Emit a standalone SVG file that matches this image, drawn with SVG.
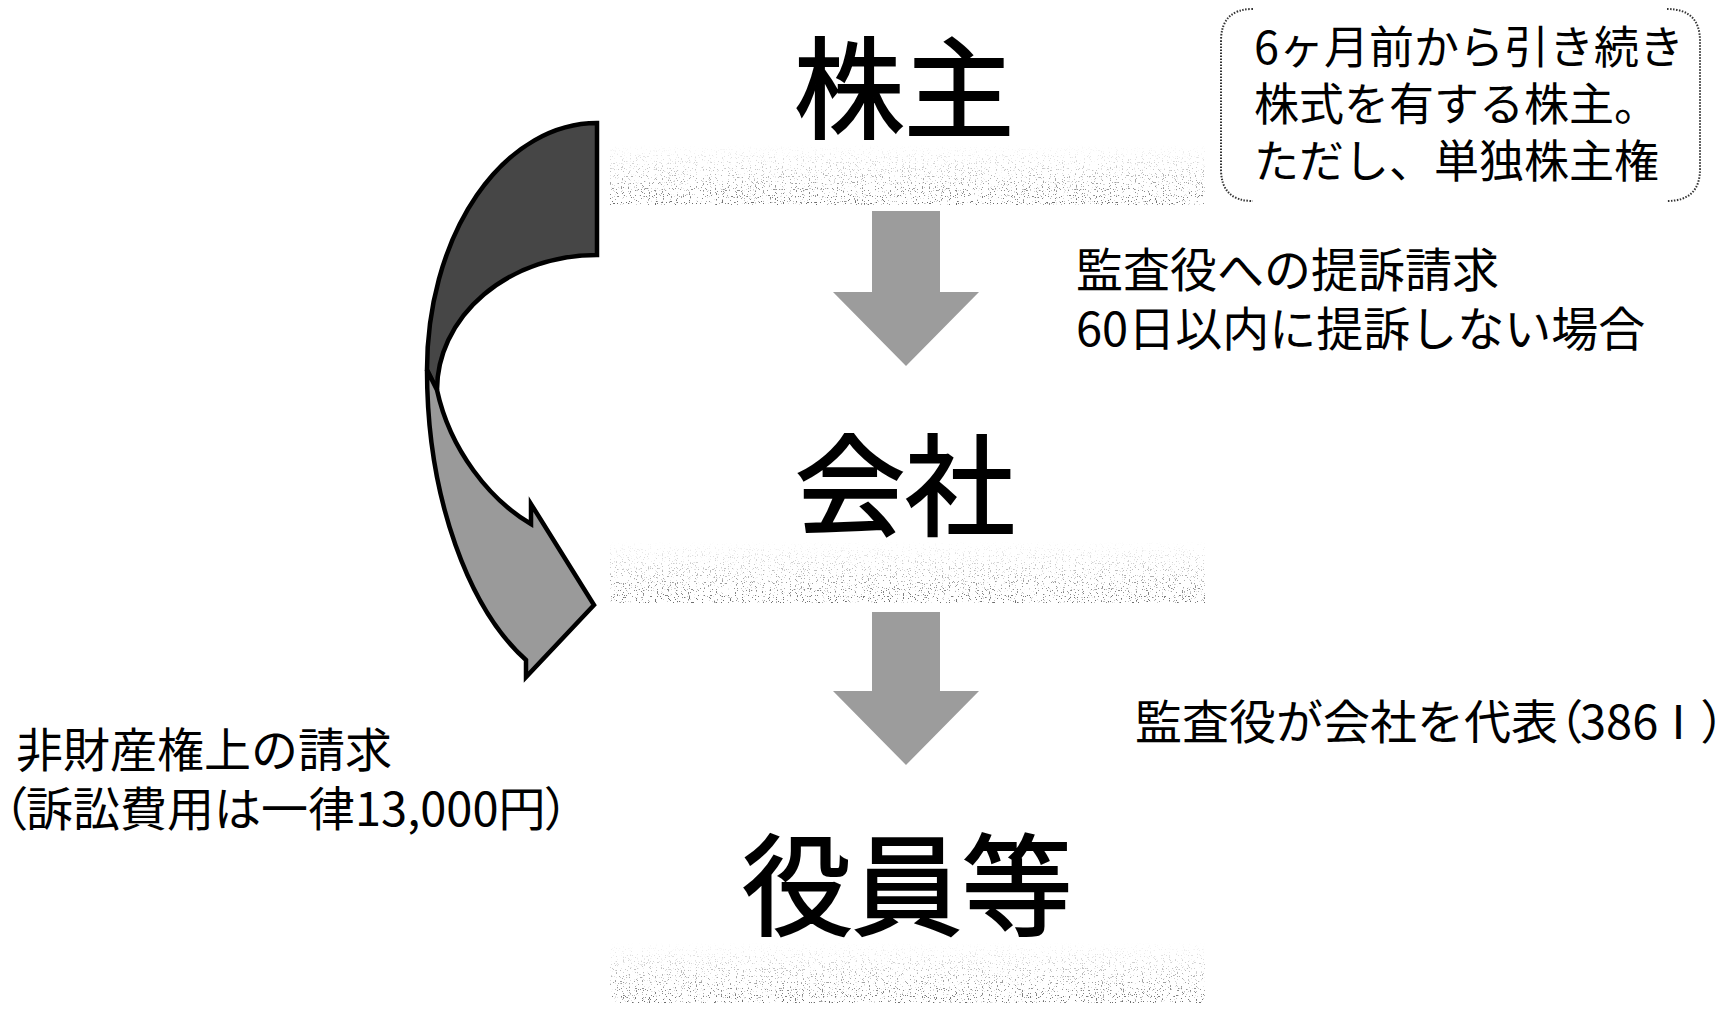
<svg xmlns="http://www.w3.org/2000/svg" width="1725" height="1009" viewBox="0 0 1725 1009">
<style>
.big{font-family:"Noto Sans CJK JP","Noto Sans CJK SC",sans-serif;font-size:110px;fill:#000;stroke:#000;stroke-width:2;text-anchor:middle}
.lbl{font-family:"Noto Sans CJK JP","Noto Sans CJK SC",sans-serif;font-size:47px;fill:#000}
.note{font-size:45px}
.p{font-feature-settings:"palt"}
.band{fill:url(#bandg);filter:url(#spk)}
.down{fill:#9c9c9c}
.bracket{fill:none;stroke:#333;stroke-width:2;stroke-dasharray:1.5 1.5}
</style>
<defs>
<linearGradient id="bandg" x1="0" y1="0" x2="0" y2="1">
<stop offset="0" stop-color="#444" stop-opacity="0"/>
<stop offset="0.4" stop-color="#444" stop-opacity="0.3"/>
<stop offset="1" stop-color="#444" stop-opacity="0.8"/>
</linearGradient>
<filter id="spk" x="0" y="0" width="1" height="1">
<feTurbulence type="fractalNoise" baseFrequency="0.85" numOctaves="1" seed="4" result="n"/>
<feColorMatrix in="n" type="matrix" values="0 0 0 0 0  0 0 0 0 0  0 0 0 0 0  14 0 0 0 -8.6" result="m"/>
<feComposite in="SourceGraphic" in2="m" operator="in"/>
</filter>
</defs>
<rect width="1725" height="1009" fill="#fff"/>

<g id="node-kabunushi">
<rect class="band" x="610" y="145" width="595" height="60"/>
<text class="big" x="904" y="130">株主</text>
</g>

<g id="node-kaisha">
<rect class="band" x="610" y="542" width="595" height="61"/>
<text class="big" x="905" y="527">会社</text>
</g>

<g id="node-yakuin">
<rect class="band" x="610" y="943" width="595" height="60"/>
<text class="big" x="907" y="927">役員等</text>
</g>

<g id="node-note">
<path class="bracket" d="M1253,9 Q1221,9 1221,41 L1221,169 Q1221,201 1253,201"/>
<path class="bracket" d="M1667,9 Q1700,9 1700,41 L1700,169 Q1700,201 1667,201"/>
<text class="lbl note" x="1254" y="64">6ヶ月前から引き続き</text>
<text class="lbl note" x="1254" y="121">株式を有する株主。</text>
<text class="lbl note" x="1254" y="178">ただし、単独株主権</text>
</g>

<g id="connectors">
<path id="arrow-1" class="down" d="M872,211 L940,211 L940,292 L979,292 L906,366 L833,292 L872,292 Z"/>
<path id="arrow-2" class="down" d="M872,612 L940,612 L940,691 L979,691 L906,765 L833,691 L872,691 Z"/>
<g id="curved-arrow" stroke="#000" stroke-width="4.5" stroke-linejoin="miter">
<path d="M597,123 A170,247 0 0 0 427,370 L437,390 A160,135 0 0 1 597,255 Z" fill="#464646"/>
<path d="M427,370 C427,500 470,610 526,660 L526,677 L594,605 L531,504 L531,524 C490,500 450,450 437,390 Z" fill="#9a9a9a"/>
</g>
</g>

<g id="labels">
<text class="lbl" x="1076" y="287">監査役への提訴請求</text>
<text class="lbl" x="1076" y="346">60日以内に提訴しない場合</text>
<text class="lbl" x="1135" y="739">監査役が会社を代表<tspan class="p" x="1558">（</tspan><tspan x="1580">386</tspan><tspan x="1655">Ⅰ</tspan><tspan class="p" x="1702">）</tspan></text>
<text class="lbl" x="16" y="767">非財産権上の請求</text>
<text class="lbl" x="3" y="826"><tspan class="p">（</tspan><tspan x="26">訴訟費用は一律13,000円</tspan><tspan class="p">）</tspan></text>
</g>
</svg>
